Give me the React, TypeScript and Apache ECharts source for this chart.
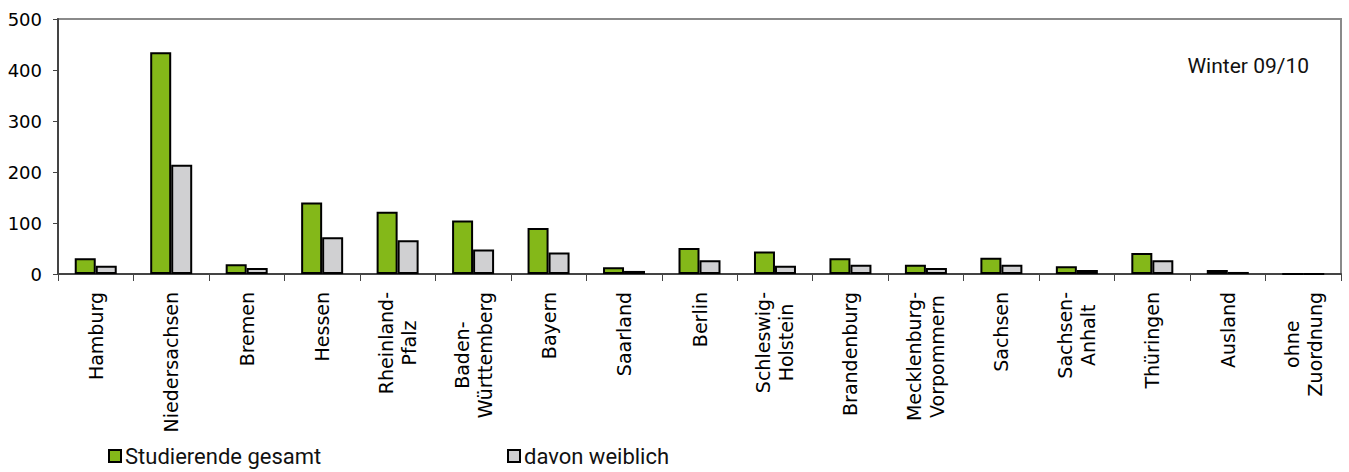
import React, { useEffect, useRef } from "react";
import * as echarts from "echarts";

const categories: string[] = [
  "Hamburg",
  "Niedersachsen",
  "Bremen",
  "Hessen",
  "Rheinland-\nPfalz",
  "Baden-\nWürttemberg",
  "Bayern",
  "Saarland",
  "Berlin",
  "Schleswig-\nHolstein",
  "Brandenburg",
  "Mecklenburg-\nVorpommern",
  "Sachsen",
  "Sachsen-\nAnhalt",
  "Thüringen",
  "Ausland",
  "ohne\nZuordnung",
];

const studierendeGesamt: number[] = [31, 435, 19, 140, 122, 105, 90, 13, 51, 44, 31, 18, 32, 15, 41, 8, 0];
const davonWeiblich: number[] = [16, 214, 12, 72, 66, 48, 42, 6, 27, 16, 18, 12, 18, 8, 27, 4, 0];

const yTicks = { min: 0, max: 500, interval: 100 };
const seriesNames = ["Studierende gesamt", "davon weiblich"];
const periodLabel = "Winter 09/10";

export default function App() {
  const ref = useRef<HTMLDivElement>(null);

  useEffect(() => {
    if (!ref.current) return;
    const chart = echarts.init(ref.current, undefined, { renderer: "svg" });
    const axisFont = "DejaVu Sans";
    const legendFont = "Roboto";
    const legendText = { fontFamily: legendFont, fontSize: 22, color: "#111", padding: [0, 0, 0, -1] };
    chart.setOption({
      animation: false,
      backgroundColor: "#ffffff",
      title: {
        text: periodLabel,
        right: 35,
        top: 50,
        textStyle: {
          fontFamily: legendFont,
          fontSize: 21,
          fontWeight: "normal",
          color: "#111",
        },
      },
      legend: [
        {
          data: [seriesNames[0]],
          left: 108,
          top: 445,
          padding: 0,
          itemWidth: 12,
          itemHeight: 12,
          icon: "rect",
          itemStyle: { borderColor: "#000", borderWidth: 2 },
          textStyle: legendText,
        },
        {
          data: [seriesNames[1]],
          left: 507,
          top: 445,
          padding: 0,
          itemWidth: 12,
          itemHeight: 12,
          icon: "rect",
          itemStyle: { borderColor: "#000", borderWidth: 2 },
          textStyle: legendText,
        },
      ],
      grid: {
        left: 58,
        right: 8,
        top: 19,
        bottom: 198,
        show: true,
        borderColor: "#8a8a8a",
        borderWidth: 2,
      },
      xAxis: {
        type: "category",
        data: categories,
        axisLine: { show: true, lineStyle: { color: "#444", width: 2 } },
        axisTick: { show: true, length: 7, lineStyle: { color: "#444", width: 1 } },
        axisLabel: {
          interval: 0,
          rotate: 90,
          margin: 18,
          fontFamily: axisFont,
          fontSize: 19,
          color: "#000",
          formatter: (v: string) =>
            v
              .split("\n")
              .map((l) => `{c|${l}}`)
              .join("\n"),
          rich: {
            c: {
              align: "center",
              fontFamily: axisFont,
              fontSize: 19,
              lineHeight: 23,
              color: "#000",
            },
          },
        },
        splitLine: { show: false },
      },
      yAxis: {
        type: "value",
        min: yTicks.min,
        max: yTicks.max,
        interval: yTicks.interval,
        axisLine: { show: true, lineStyle: { color: "#444", width: 2 } },
        axisTick: { show: true, length: 5, lineStyle: { color: "#444", width: 1 } },
        axisLabel: {
          margin: 16,
          fontFamily: axisFont,
          fontSize: 18,
          color: "#000",
        },
        splitLine: { show: false },
      },
      series: [
        {
          name: seriesNames[0],
          type: "bar",
          data: studierendeGesamt,
          barWidth: 21,
          barGap: "0%",
          itemStyle: { color: "#84b819", borderColor: "#000", borderWidth: 2 },
        },
        {
          name: seriesNames[1],
          type: "bar",
          data: davonWeiblich,
          barWidth: 21,
          barGap: "0%",
          itemStyle: { color: "#d0d0d2", borderColor: "#000", borderWidth: 2 },
        },
      ],
    });
    return () => chart.dispose();
  }, []);

  return (
    <div
      ref={ref}
      style={{ position: "fixed", left: 0, top: 0, width: 1349, height: 472 }}
    />
  );
}
